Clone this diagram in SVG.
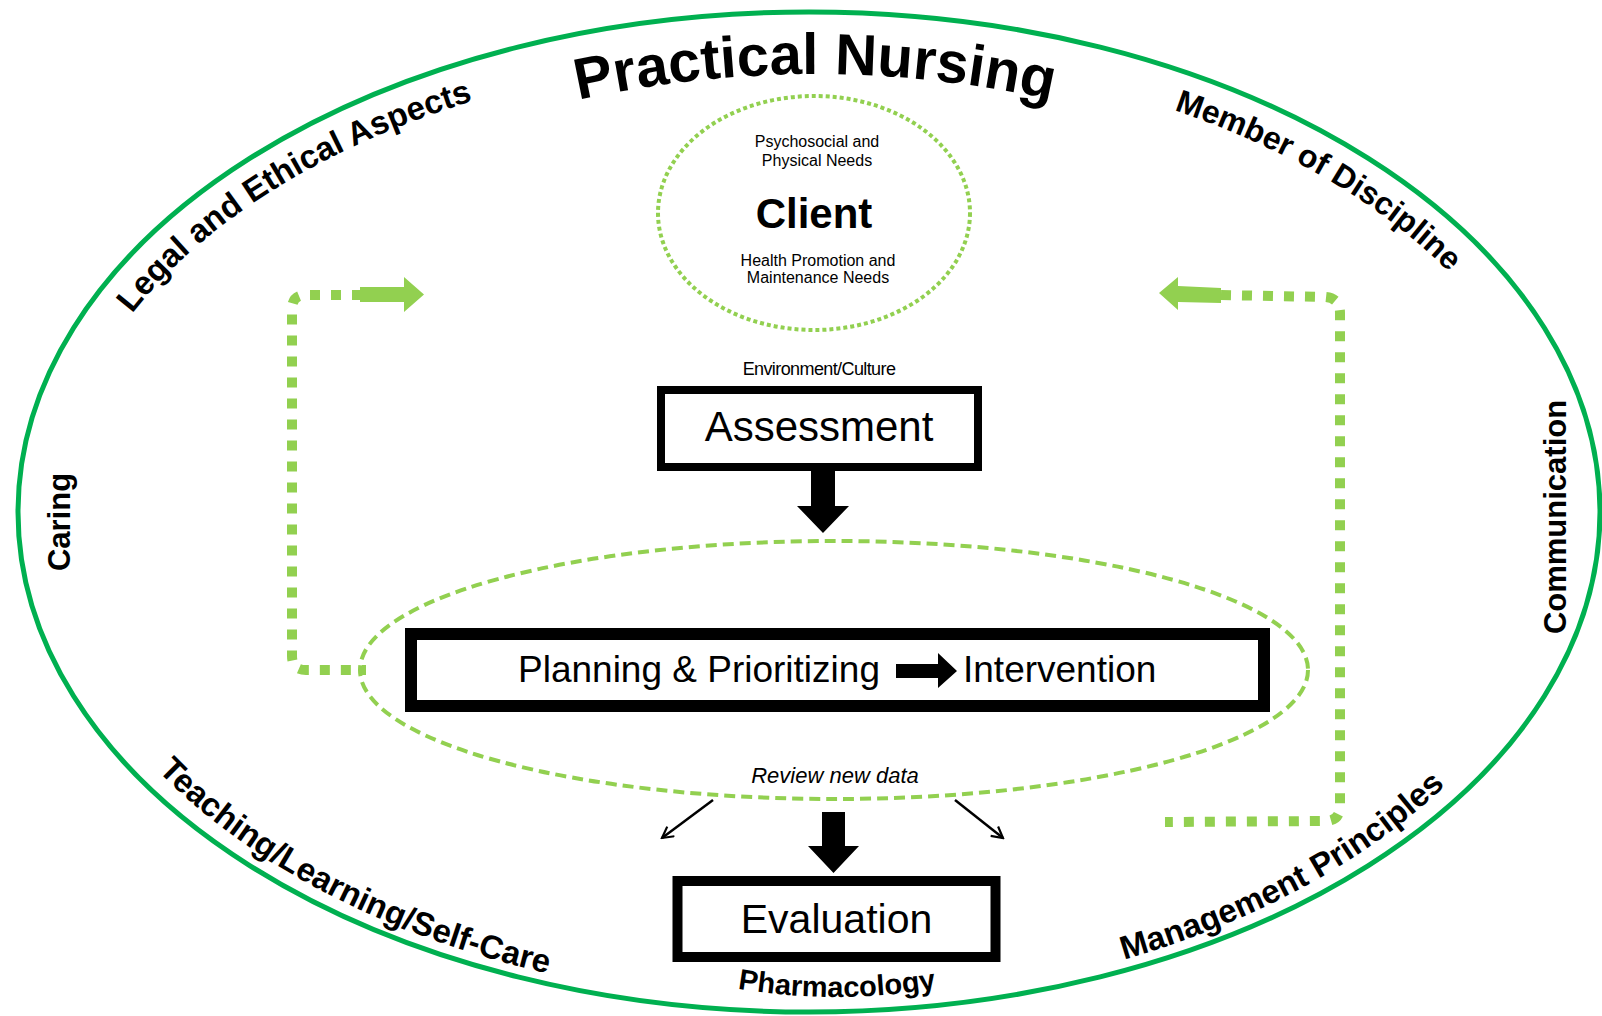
<svg xmlns="http://www.w3.org/2000/svg" width="1602" height="1016" viewBox="0 0 1602 1016">
<style>
.sans{font-family:"Liberation Sans",Arial,sans-serif;fill:#000}
.side{font-family:"Liberation Sans",Arial,sans-serif;font-weight:bold;font-size:33px;fill:#000}
.box{fill:#fff;stroke:#000}
.dotline{fill:none;stroke:#92D050;stroke-width:10;stroke-dasharray:10 11}
.garrow{fill:#92D050;stroke:none}
.barrow{fill:#000;stroke:none}
.thin{fill:none;stroke:#000;stroke-width:2.5}
</style>
<defs>
<path id="pTitle" d="M 415 149.7 A 1095 1095 0 0 1 1215 149.7"/>
<path id="pLegal" d="M 125 323.3 A 750 460 0 0 1 809 52"/>
<path id="pMember" d="M 1174 110 A 750 460 0 0 1 1559 512"/>
<path id="pTeach" d="M 158 770.7 A 766 491 0 0 0 809 1003"/>
<path id="pMgmt" d="M 1124 959.6 A 766 491 0 0 0 1575 512"/>
<path id="pPharm" d="M 687 977.9 A 600 600 0 0 0 987 977.9"/>
<marker id="open" viewBox="0 0 14 14" refX="12" refY="7" markerWidth="14" markerHeight="14" markerUnits="userSpaceOnUse" orient="auto">
<path d="M1 1 L12 7 L1 13" fill="none" stroke="#000" stroke-width="2.2"/>
</marker>
</defs>
<rect width="1602" height="1016" fill="#fff"/>

<g id="frame">
<ellipse cx="809" cy="512" rx="791" ry="500" fill="none" stroke="#00B050" stroke-width="5"/>
</g>

<g id="title">
<text class="sans" font-weight="bold" font-size="58"><textPath href="#pTitle" startOffset="50%" text-anchor="middle">Practical Nursing</textPath></text>
</g>

<g id="aspects">
<text class="side"><textPath href="#pLegal" startOffset="12">Legal and Ethical Aspects</textPath></text>
<text class="side" style="font-size:32px"><textPath href="#pMember">Member of Discipline</textPath></text>
<text class="side"><textPath href="#pTeach">Teaching/Learning/Self-Care</textPath></text>
<text class="side"><textPath href="#pMgmt">Management Principles</textPath></text>
<text class="side" style="font-size:29px"><textPath href="#pPharm" startOffset="50%" text-anchor="middle">Pharmacology</textPath></text>
<text class="side" style="font-size:31px" text-anchor="middle" transform="translate(70 522) rotate(-90)">Caring</text>
<text class="side" style="font-size:31px" text-anchor="middle" transform="translate(1566 517) rotate(-90)">Communication</text>
</g>

<g id="client">
<ellipse cx="814" cy="213" rx="156" ry="117" fill="none" stroke="#92D050" stroke-width="4" stroke-dasharray="4 3"/>
<text class="sans" font-size="16" text-anchor="middle" x="817" y="147">Psychosocial and</text>
<text class="sans" font-size="16" text-anchor="middle" x="817" y="166">Physical Needs</text>
<text class="sans" font-size="42" font-weight="bold" text-anchor="middle" x="814" y="228">Client</text>
<text class="sans" font-size="16" text-anchor="middle" x="818" y="266">Health Promotion and</text>
<text class="sans" font-size="16" text-anchor="middle" x="818" y="283">Maintenance Needs</text>
</g>

<g id="environment">
<text class="sans" font-size="18" text-anchor="middle" x="819" y="375" letter-spacing="-0.6">Environment/Culture</text>
</g>

<g id="assessment">
<rect class="box" x="661" y="390" width="317" height="77" stroke-width="8"/>
<text class="sans" font-size="42" text-anchor="middle" x="819" y="441">Assessment</text>
</g>

<g id="planning">
<ellipse cx="834" cy="670" rx="474" ry="129" fill="none" stroke="#92D050" stroke-width="4" stroke-dasharray="11 6"/>
<rect class="box" x="411" y="634" width="853" height="72" stroke-width="12"/>
<text class="sans" font-size="37" x="518" y="682">Planning &amp; Prioritizing</text>
<polygon class="barrow" points="896,664 938,664 938,653 957,671 938,688 938,678 896,678"/>
<text class="sans" font-size="37" x="963" y="682">Intervention</text>
<text class="sans" font-size="22" font-style="italic" text-anchor="middle" x="835" y="783">Review new data</text>
</g>

<g id="evaluation">
<rect class="box" x="677.5" y="881" width="318" height="76" stroke-width="10"/>
<text class="sans" font-size="41" text-anchor="middle" x="836.5" y="933">Evaluation</text>
</g>

<g id="connectors">
<polygon class="barrow" points="811,470 835,470 835,506 849,506 823,533 797,506 811,506"/>
<polygon class="barrow" points="822,812 845,812 845,846 859,846 833.5,873 808,846 822,846"/>
<line class="thin" x1="713" y1="800" x2="662" y2="838" marker-end="url(#open)"/>
<line class="thin" x1="955" y1="800" x2="1003" y2="838" marker-end="url(#open)"/>
<path class="dotline" d="M 362 295 L 306 295 Q 292 295 292 309 L 292 656 Q 292 670 306 670 L 366 670"/>
<polygon class="garrow" points="360,287 404,287 404,277 424,294.5 404,312 404,302 360,302"/>
<path class="dotline" d="M 1221 295 L 1325 297 Q 1340 298 1340 313 L 1340 806 Q 1340 821 1325 821 L 1165 822"/>
<polygon class="garrow" points="1159,293 1178,277 1178,286 1221,288 1221,303 1178,302 1178,310"/>
</g>
</svg>
